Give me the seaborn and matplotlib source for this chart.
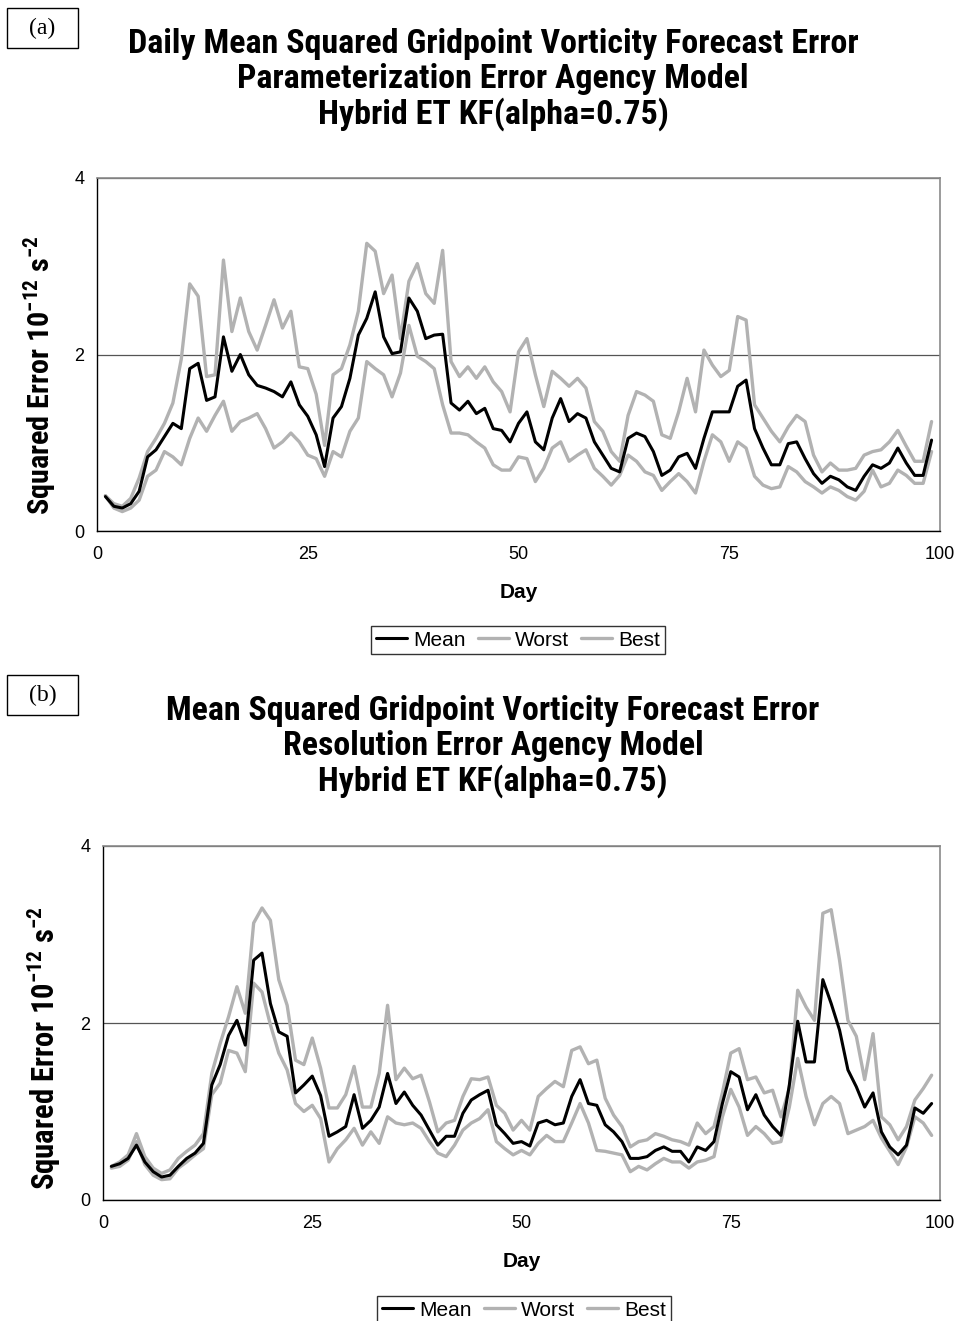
import numpy as np
import pandas as pd
import matplotlib
matplotlib.use("Agg")
import matplotlib.pyplot as plt
from matplotlib.patches import Rectangle
from matplotlib.lines import Line2D
from matplotlib import font_manager
import seaborn as sns

# ---------------- data ----------------
days = list(range(1, 100))

a_mean = [0.39, 0.28, 0.26, 0.31, 0.45, 0.84, 0.92, 1.07, 1.22, 1.16,
          1.84, 1.90, 1.48, 1.52, 2.20, 1.81, 2.00, 1.77, 1.65, 1.62,
          1.58, 1.52, 1.69, 1.43, 1.30, 1.09, 0.73, 1.28, 1.41, 1.73,
          2.22, 2.41, 2.71, 2.20, 2.01, 2.03, 2.64, 2.49, 2.18, 2.22,
          2.23, 1.45, 1.37, 1.47, 1.33, 1.39, 1.16, 1.14, 1.01, 1.22,
          1.35, 1.01, 0.92, 1.28, 1.50, 1.24, 1.33, 1.28, 1.01, 0.86,
          0.71, 0.67, 1.05, 1.11, 1.07, 0.90, 0.63, 0.69, 0.84, 0.88,
          0.71, 1.05, 1.35, 1.35, 1.35, 1.64, 1.71, 1.16, 0.94, 0.75,
          0.75, 0.99, 1.01, 0.82, 0.65, 0.54, 0.62, 0.58, 0.50, 0.46,
          0.62, 0.75, 0.71, 0.77, 0.94, 0.77, 0.63, 0.63, 1.03]
a_worst = [0.40, 0.31, 0.28, 0.37, 0.60, 0.90, 1.05, 1.22, 1.45, 1.95,
           2.80, 2.66, 1.75, 1.77, 3.07, 2.26, 2.64, 2.26, 2.05, 2.33,
           2.62, 2.30, 2.49, 1.86, 1.84, 1.55, 0.97, 1.77, 1.84, 2.11,
           2.49, 3.26, 3.17, 2.69, 2.90, 2.18, 2.83, 3.03, 2.69, 2.58,
           3.18, 1.92, 1.75, 1.86, 1.73, 1.86, 1.69, 1.58, 1.35, 2.03,
           2.18, 1.77, 1.41, 1.81, 1.73, 1.64, 1.73, 1.62, 1.24, 1.13,
           0.90, 0.79, 1.31, 1.58, 1.54, 1.47, 1.09, 1.05, 1.35, 1.73,
           1.35, 2.05, 1.88, 1.75, 1.82, 2.43, 2.39, 1.43, 1.28, 1.13,
           1.01, 1.18, 1.31, 1.24, 0.86, 0.67, 0.77, 0.69, 0.69, 0.71,
           0.86, 0.90, 0.92, 1.01, 1.14, 0.96, 0.79, 0.79, 1.24]
a_best = [0.40, 0.26, 0.22, 0.26, 0.35, 0.62, 0.69, 0.90, 0.84, 0.75,
          1.05, 1.28, 1.13, 1.31, 1.47, 1.13, 1.24, 1.28, 1.33, 1.16,
          0.94, 1.01, 1.11, 1.01, 0.86, 0.82, 0.62, 0.90, 0.84, 1.13,
          1.28, 1.92, 1.84, 1.77, 1.52, 1.79, 2.33, 1.98, 1.92, 1.84,
          1.43, 1.11, 1.11, 1.09, 1.01, 0.94, 0.75, 0.69, 0.69, 0.84,
          0.82, 0.56, 0.71, 0.94, 1.01, 0.79, 0.86, 0.92, 0.71, 0.62,
          0.52, 0.63, 0.86, 0.79, 0.67, 0.63, 0.46, 0.56, 0.65, 0.56,
          0.43, 0.79, 1.09, 1.01, 0.79, 1.01, 0.94, 0.62, 0.52, 0.48,
          0.50, 0.73, 0.67, 0.56, 0.50, 0.43, 0.50, 0.46, 0.39, 0.35,
          0.45, 0.69, 0.50, 0.54, 0.69, 0.63, 0.54, 0.54, 0.90]

b_mean = [0.38, 0.41, 0.47, 0.62, 0.43, 0.32, 0.26, 0.28, 0.38, 0.47,
          0.53, 0.64, 1.30, 1.53, 1.86, 2.03, 1.75, 2.71, 2.79, 2.22,
          1.90, 1.85, 1.21, 1.30, 1.40, 1.18, 0.72, 0.77, 0.83, 1.19,
          0.81, 0.90, 1.05, 1.43, 1.09, 1.22, 1.07, 0.96, 0.79, 0.62,
          0.72, 0.72, 0.98, 1.13, 1.19, 1.24, 0.85, 0.75, 0.64, 0.66,
          0.61, 0.87, 0.90, 0.85, 0.87, 1.17, 1.36, 1.09, 1.07, 0.85,
          0.77, 0.66, 0.47, 0.47, 0.49, 0.56, 0.60, 0.55, 0.55, 0.43,
          0.60, 0.56, 0.66, 1.09, 1.45, 1.39, 1.02, 1.19, 0.96, 0.83,
          0.73, 1.30, 2.02, 1.56, 1.56, 2.49, 2.22, 1.92, 1.47, 1.28,
          1.05, 1.21, 0.77, 0.60, 0.51, 0.62, 1.04, 0.98, 1.09]
b_worst = [0.38, 0.43, 0.51, 0.75, 0.49, 0.36, 0.30, 0.34, 0.47, 0.55,
           0.62, 0.75, 1.43, 1.77, 2.07, 2.41, 2.11, 3.13, 3.30, 3.16,
           2.49, 2.20, 1.58, 1.53, 1.83, 1.49, 1.04, 1.04, 1.19, 1.51,
           1.05, 1.05, 1.43, 2.20, 1.36, 1.49, 1.37, 1.41, 1.11, 0.77,
           0.87, 0.90, 1.17, 1.37, 1.36, 1.39, 1.07, 0.98, 0.79, 0.90,
           0.79, 1.17, 1.26, 1.34, 1.28, 1.69, 1.73, 1.54, 1.58, 1.15,
           0.96, 0.83, 0.60, 0.66, 0.68, 0.75, 0.72, 0.68, 0.66, 0.62,
           0.87, 0.75, 0.83, 1.21, 1.66, 1.71, 1.36, 1.39, 1.21, 1.24,
           0.94, 1.26, 2.37, 2.18, 2.03, 3.24, 3.28, 2.71, 2.03, 1.85,
           1.36, 1.88, 0.94, 0.85, 0.68, 0.83, 1.13, 1.26, 1.41]
b_best = [0.36, 0.38, 0.45, 0.66, 0.40, 0.28, 0.23, 0.24, 0.36, 0.43,
          0.51, 0.58, 1.19, 1.32, 1.69, 1.66, 1.45, 2.45, 2.35, 1.98,
          1.66, 1.47, 1.09, 1.00, 1.07, 0.92, 0.43, 0.58, 0.68, 0.81,
          0.62, 0.77, 0.64, 0.94, 0.87, 0.85, 0.87, 0.81, 0.66, 0.53,
          0.49, 0.62, 0.79, 0.87, 0.92, 1.02, 0.66, 0.58, 0.51, 0.56,
          0.51, 0.64, 0.73, 0.66, 0.66, 0.87, 1.09, 0.87, 0.56, 0.55,
          0.53, 0.51, 0.32, 0.38, 0.34, 0.41, 0.47, 0.43, 0.43, 0.36,
          0.43, 0.45, 0.49, 0.94, 1.25, 1.05, 0.73, 0.83, 0.75, 0.64,
          0.66, 1.05, 1.60, 1.17, 0.85, 1.09, 1.17, 1.09, 0.75, 0.79,
          0.83, 0.90, 0.70, 0.55, 0.40, 0.60, 0.94, 0.87, 0.73]

series_names = ["Mean", "Worst", "Best"]
x_ticks = [0, 25, 50, 75, 100]
y_ticks = [0, 2, 4]

titles_a = ["Daily Mean Squared Gridpoint Vorticity Forecast Error",
            "Parameterization Error Agency Model",
            "Hybrid ET KF(alpha=0.75)"]
titles_b = ["Mean Squared Gridpoint Vorticity Forecast Error",
            "Resolution Error Agency Model",
            "Hybrid ET KF(alpha=0.75)"]
ylabel_text = r"Squared Error 10$^{-12}$ s$^{-2}$"
xlabel_text = "Day"

# ---------------- style ----------------
sns.set_style("white")
sans = "Liberation Sans"

bold_fams = set(f.name for f in font_manager.fontManager.ttflist
                if (isinstance(f.weight, int) and f.weight >= 700) or f.weight == "bold")
narrow = sans
for cand in ["Liberation Sans Narrow", "Arial Narrow", "Roboto Condensed",
             "Archivo Narrow", "Open Sans Condensed", "Sofia Sans Condensed"]:
    if cand in bold_fams:
        narrow = cand
        break

plt.rcParams["font.family"] = [sans, "DejaVu Sans"]
plt.rcParams["mathtext.fontset"] = "custom"
plt.rcParams["mathtext.rm"] = narrow
plt.rcParams["mathtext.bf"] = narrow + ":bold"
plt.rcParams["mathtext.default"] = "bf"
for k in ["text.color", "axes.labelcolor", "xtick.color", "ytick.color", "axes.edgecolor"]:
    plt.rcParams[k] = "black"

W, H = 957, 1321
fig = plt.figure(figsize=(W / 100, H / 100), dpi=100)
fig.patch.set_facecolor("white")
renderer = fig.canvas.get_renderer()

GRAY = "#b2b2b2"


def fx(px):
    return px / W


def fy(py):
    return 1 - py / H


def make_panel(rect, mean, worst, best, legend_center, ylab_x, ylab_y, ylab_len):
    ax = fig.add_axes(rect)
    df = pd.DataFrame({"Day": days * 3,
                       "value": list(mean) + list(worst) + list(best),
                       "series": ["Mean"] * len(days) + ["Worst"] * len(days) + ["Best"] * len(days)})
    sns.lineplot(data=df[df.series == "Worst"], x="Day", y="value", ax=ax,
                 color=GRAY, linewidth=2.4, legend=False, zorder=2)
    sns.lineplot(data=df[df.series == "Best"], x="Day", y="value", ax=ax,
                 color=GRAY, linewidth=2.4, legend=False, zorder=2)
    sns.lineplot(data=df[df.series == "Mean"], x="Day", y="value", ax=ax,
                 color="black", linewidth=2.2, legend=False, zorder=3)
    ax.set_xlim(0, 100)
    ax.set_ylim(0, 4)
    ax.set_xticks(x_ticks)
    ax.set_yticks(y_ticks)
    ax.tick_params(axis="both", labelsize=13, direction="out", length=5,
                   width=1, color="black", pad=4, labelcolor="black")
    ax.tick_params(axis="x", pad=6)
    ax.yaxis.grid(True, color="#555555", linewidth=0.9)
    ax.xaxis.grid(False)
    for s in ["left", "bottom"]:
        ax.spines[s].set_color("black")
        ax.spines[s].set_linewidth(1.0)
    for s in ["top", "right"]:
        ax.spines[s].set_color("#8a8a8a")
        ax.spines[s].set_linewidth(1.2)
    ax.set_xlabel(xlabel_text, fontsize=15, fontweight="bold", labelpad=14,
                  family=[sans])
    yl = ax.set_ylabel(ylabel_text, fontsize=16, fontweight="bold",
                       family=[narrow, sans])
    h = yl.get_window_extent(renderer).height
    yl.set_fontsize(16 * ylab_len / h)
    ax.yaxis.set_label_coords(ylab_x, ylab_y)
    handles = [Line2D([], [], color="black", lw=2.2),
               Line2D([], [], color=GRAY, lw=2.4),
               Line2D([], [], color=GRAY, lw=2.4)]
    leg = ax.legend(handles, series_names, loc="center",
                    bbox_to_anchor=legend_center, bbox_transform=fig.transFigure,
                    ncol=3, frameon=True, fancybox=False, shadow=False,
                    edgecolor="black", fontsize=15, handlelength=1.5,
                    handletextpad=0.3, columnspacing=0.55, borderpad=0.22,
                    borderaxespad=0)
    leg.get_frame().set_linewidth(1.0)
    return ax


axA = make_panel([fx(97), fy(531), fx(940) - fx(97), (531 - 178) / H],
                 a_mean, a_worst, a_best, (fx(518), fy(640)),
                 (58 - 97) / 843, 0.44, 280)
axB = make_panel([fx(103), fy(1200), fx(940) - fx(103), (1200 - 846) / H],
                 b_mean, b_worst, b_best, (fx(524), fy(1310)),
                 (63 - 103) / 837, 0.43, 285)


def title_block(lines, ys, target_w):
    fs = 17
    t0 = fig.text(fx(493), fy(ys[0]), lines[0], ha="center", va="center",
                  fontsize=fs, fontweight="bold", family=[narrow, sans])
    w = t0.get_window_extent(renderer).width
    fs = fs * target_w / w
    t0.set_fontsize(fs)
    for line, y in zip(lines[1:], ys[1:]):
        fig.text(fx(493), fy(y), line, ha="center", va="center",
                 fontsize=fs, fontweight="bold", family=[narrow, sans])


title_block(titles_a, [44, 79, 114], 730)
title_block(titles_b, [711, 746, 781], 653)


def panel_box(label, top):
    fig.add_artist(Rectangle((fx(7), fy(top + 40)), fx(71), 40 / H,
                             transform=fig.transFigure, fill=False,
                             edgecolor="black", linewidth=1.0))
    fig.text(fx(42.5), fy(top + 20), label, ha="center", va="center",
             fontsize=17, family=["Liberation Serif", "DejaVu Serif"])


panel_box("(a)", 8)
panel_box("(b)", 675)

fig.savefig("out.png", dpi=100)
